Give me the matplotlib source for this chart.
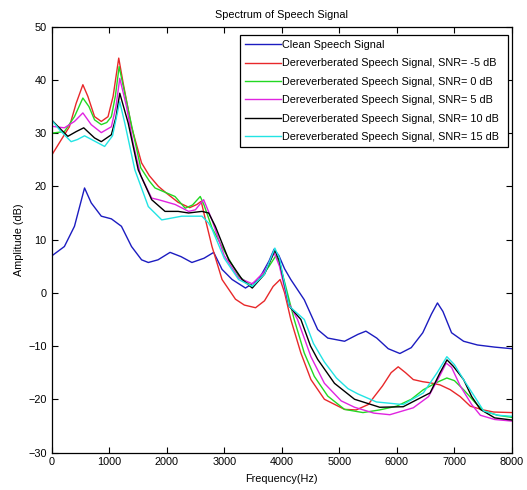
import matplotlib
matplotlib.use("Agg")
import matplotlib.pyplot as plt
from matplotlib import font_manager

# ---------------- data ----------------
f_clean = [0, 224, 399, 574, 690, 865, 1040, 1215, 1390, 1565, 1682, 1850, 2060, 2250, 2439,
           2650, 2818, 2963, 3138, 3370, 3600, 3780, 3867, 3950, 4050, 4157, 4391, 4624, 4800,
           5091, 5324, 5462, 5650, 5850, 6052, 6250, 6450, 6600, 6705, 6800, 6950, 7159, 7400,
           7700, 8000]
a_clean = [6.9, 8.7, 12.5, 19.7, 16.9, 14.4, 13.9, 12.5, 8.7, 6.2, 5.7, 6.2, 7.6, 6.8, 5.7,
           6.5, 7.6, 4.4, 2.5, 0.9, 2.5, 6.0, 8.2, 7.0, 4.5, 2.5, -1.3, -6.9, -8.5,
           -9.1, -7.8, -7.2, -8.5, -10.5, -11.4, -10.3, -7.5, -4.0, -1.9, -3.5, -7.5, -9.1, -9.8,
           -10.2, -10.5]

f_m5 = [0, 166, 311, 428, 545, 632, 748, 865, 982, 1070, 1168, 1245, 1390, 1565, 1700, 1857,
        2000, 2200, 2400, 2526, 2600, 2671, 2788, 2963, 3196, 3350, 3545, 3700, 3850, 3972,
        4050, 4157, 4332, 4507, 4741, 5091, 5294, 5500, 5750, 5900, 6023, 6150, 6285, 6450,
        6577, 6750, 6927, 7100, 7276, 7500, 7683, 8000]
a_m5 = [25.8, 28.7, 31.2, 35.6, 39.1, 36.9, 33.1, 32.2, 33.1, 36.9, 44.1, 39.4, 31.2, 24.4, 22.0,
        20.0, 18.7, 17.0, 16.0, 16.6, 17.2, 13.9, 8.7, 2.5, -1.2, -2.3, -2.8, -1.5, 1.2, 2.5,
        0.0, -5.0, -11.3, -16.3, -20.0, -21.9, -22.0, -21.0, -17.5, -15.0, -13.9, -15.0, -16.3,
        -16.7, -16.9, -17.3, -18.2, -19.5, -21.3, -22.0, -22.4, -22.5]

f_0 = [0, 224, 399, 545, 650, 748, 865, 960, 1040, 1110, 1175, 1273, 1400, 1550, 1700, 1798,
       1950, 2145, 2322, 2450, 2584, 2650, 2788, 3021, 3254, 3488, 3650, 3780, 3900, 3960, 4050,
       4216, 4391, 4566, 4799, 5091, 5411, 5700, 5994, 6250, 6460, 6700, 6868, 7000, 7159, 7350,
       7508, 7750, 8000]
a_0 = [30.0, 30.3, 33.1, 36.6, 35.0, 32.5, 31.6, 32.0, 33.1, 37.0, 42.5, 37.5, 31.0, 23.5, 21.0,
       19.7, 19.0, 18.1, 15.9, 16.5, 18.1, 16.5, 12.2, 7.5, 3.1, 1.2, 3.0, 5.0, 7.0, 5.5, 2.0,
       -5.0, -11.3, -15.7, -19.4, -21.9, -22.5, -22.0, -21.3, -20.0, -18.2, -16.8, -16.0, -16.5,
       -18.2, -20.5, -22.2, -23.0, -23.4]

f_5 = [0, 224, 399, 545, 690, 865, 1040, 1120, 1186, 1303, 1420, 1550, 1740, 1857, 2148, 2382,
       2500, 2643, 2788, 3000, 3250, 3488, 3700, 3870, 3960, 4100, 4274, 4507, 4741, 5032, 5265,
       5600, 5878, 6285, 6550, 6750, 6857, 6950, 7101, 7300, 7450, 7700, 8000]
a_5 = [31.3, 31.0, 32.2, 33.8, 31.6, 30.1, 31.2, 35.0, 40.3, 35.0, 28.0, 22.0, 17.8, 17.5, 16.6,
       15.3, 15.6, 17.5, 13.7, 7.0, 2.8, 1.7, 4.0, 7.5, 5.0, -1.5, -5.0, -12.0, -17.0, -20.3,
       -21.5, -22.6, -22.9, -21.6, -19.5, -15.5, -13.2, -14.0, -17.5, -21.0, -23.0, -23.8, -24.1]

f_10 = [0, 108, 283, 430, 560, 748, 865, 1040, 1120, 1186, 1332, 1507, 1740, 1972, 2200, 2382,
        2614, 2730, 2846, 3079, 3313, 3488, 3700, 3880, 3960, 4129, 4332, 4500, 4624, 4916, 5265,
        5702, 6110, 6577, 6750, 6870, 6980, 7159, 7300, 7450, 7700, 8000]
a_10 = [32.5, 31.3, 29.4, 30.3, 31.0, 29.1, 28.4, 29.7, 33.0, 37.5, 31.9, 23.1, 17.5, 15.3, 15.3,
        15.0, 15.3, 15.0, 12.5, 6.2, 2.5, 0.9, 3.5, 8.0, 6.0, -2.5, -5.0, -10.0, -12.5, -17.0,
        -20.0, -21.5, -21.4, -18.8, -15.0, -12.6, -13.8, -16.3, -19.5, -21.9, -23.5, -23.9]

f_15 = [0, 150, 341, 450, 574, 750, 923, 1060, 1185, 1273, 1448, 1682, 1915, 2264, 2614, 2730,
        2788, 3000, 3250, 3488, 3700, 3880, 3960, 4129, 4391, 4550, 4741, 4950, 5150, 5324, 5644,
        6110, 6460, 6700, 6868, 7000, 7159, 7350, 7508, 7750, 8000]
a_15 = [32.5, 30.5, 28.4, 28.8, 29.5, 28.5, 27.5, 29.5, 35.9, 31.9, 23.1, 16.2, 13.7, 14.4, 14.4,
        13.1, 12.0, 6.5, 2.5, 1.2, 3.5, 8.4, 6.5, -2.5, -5.0, -9.5, -13.0, -16.0, -18.0, -19.0,
        -20.5, -21.0, -18.8, -15.0, -12.0, -13.5, -16.3, -19.5, -22.2, -23.0, -23.2]

labels = ["Clean Speech Signal",
          "Dereverberated Speech Signal, SNR= -5 dB",
          "Dereverberated Speech Signal, SNR= 0 dB",
          "Dereverberated Speech Signal, SNR= 5 dB",
          "Dereverberated Speech Signal, SNR= 10 dB",
          "Dereverberated Speech Signal, SNR= 15 dB"]
colors = ["#1c1cc0", "#e8282a", "#22d822", "#e024e0", "#000000", "#22e4e4"]
x_ticks = [0, 1000, 2000, 3000, 4000, 5000, 6000, 7000, 8000]
y_ticks = [-30, -20, -10, 0, 10, 20, 30, 40, 50]

# ---------------- fonts ----------------
avail = {f.name for f in font_manager.fontManager.ttflist}
fam = "Liberation Sans Narrow" if "Liberation Sans Narrow" in avail else "Liberation Sans"
plt.rcParams["font.family"] = [fam, "DejaVu Sans"]
fs = 7.8

W, H = 527, 490
fig = plt.figure(figsize=(W / 100, H / 100), dpi=100)
L, R, T, B = 51.5, 512.0, 26.7, 452.5
ax = fig.add_axes([L / W, 1 - B / H, (R - L) / W, (B - T) / H])

series = [(f_clean, a_clean), (f_m5, a_m5), (f_0, a_0), (f_5, a_5), (f_10, a_10), (f_15, a_15)]
for (fx, ay), lab, c in zip(series, labels, colors):
    ax.plot(fx, ay, color=c, lw=1.0, label=lab)

ax.set_xlim(0, 8000)
ax.set_ylim(-30, 50)
ax.set_xticks(x_ticks)
ax.set_yticks(y_ticks)
ax.tick_params(direction="in", top=True, right=True, length=4, width=0.8,
               labelsize=fs, pad=3.5)
for s in ax.spines.values():
    s.set_linewidth(0.9)

ax.set_title("Spectrum of Speech Signal", fontsize=fs, pad=6)
ax.set_xlabel("Frequency(Hz)", fontsize=fs, labelpad=5)
ax.set_ylabel("Amplitude (dB)", fontsize=fs, labelpad=3)

# legend box: x 240..508, y 35..147 (pixels from top-left)
lx0, lx1, ly0, ly1 = 240.0, 508.3, 35.0, 146.7
leg = ax.legend(loc="upper left", fontsize=fs, frameon=True, fancybox=False,
                framealpha=1, edgecolor="black", handlelength=3.3, handletextpad=0.1,
                labelspacing=0.78, borderpad=0.45, borderaxespad=0.0,
                mode="expand",
                bbox_to_anchor=(lx0 / W, 1 - ly1 / H, (lx1 - lx0) / W, (ly1 - ly0) / H),
                bbox_transform=fig.transFigure)
leg.get_frame().set_linewidth(0.9)

fig.savefig("out.png", dpi=100)
